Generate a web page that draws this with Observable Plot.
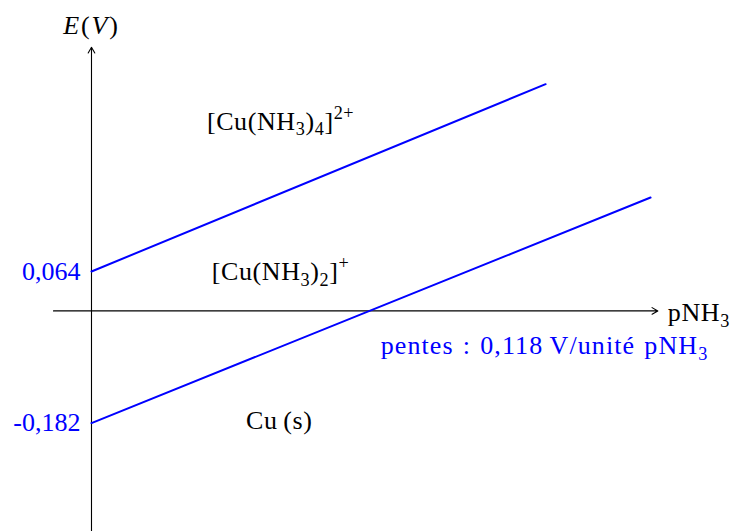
<!DOCTYPE html>
<html>
<head>
<meta charset="utf-8">
<script src="https://cdn.jsdelivr.net/npm/d3@7"></script>
<script src="https://cdn.jsdelivr.net/npm/@observablehq/plot@0.6"></script>
<style>
  html, body { margin: 0; padding: 0; background: #fff; }
  svg { display: block; }
</style>
</head>
<body>
<div id="chart"></div>
<script>
// ---- data ----
const series = ["Cu(II)/Cu(I)", "Cu(I)/Cu"];
const pNH3Start = [0, 0];
const pNH3End = [2.51, 3.09];
const EStart = [0.064, -0.182];
const EEnd = [0.368, 0.184];

const tickValues = [0.064, -0.182];
const tickLabels = ["0,064", "-0,182"];

const xExtent = [-0.21, 3.13];   // pNH3 axis extent
const yExtent = [-0.358, 0.428]; // E axis extent

const xLabel = "pNH_{3}";
const yLabel = "*E*(*V*)";
const regionLabels = ["[Cu(NH_{3})_{4}]^{2+}", "[Cu(NH_{3})_{2}]^{+}", "Cu\u2009(s)"];
const slopeLabel = "pentes : 0,118\u2009V/unité pNH_{3}";

// ---- tables built from the arrays ----
const lineRows = series.flatMap((s, i) => [
  {s, p: pNH3Start[i], E: EStart[i]},
  {s, p: pNH3End[i], E: EEnd[i]}
]);
const ticks = tickValues.map((v, i) => ({v, label: tickLabels[i]}));

const FS = 26;
const FONT = "'Liberation Serif', 'DejaVu Serif', serif";

const plot = Plot.plot({
  width: 732,
  height: 531,
  marginLeft: 53,
  marginRight: 74.7,
  marginTop: 46.7,
  marginBottom: 0,
  x: {domain: xExtent, axis: null},
  y: {domain: yExtent, axis: null},
  style: {fontFamily: FONT, background: "white", overflow: "visible"},
  marks: [
    // axes
    Plot.arrow([0], {x1: xExtent[0], x2: xExtent[1], y1: 0, y2: 0,
      stroke: "black", strokeWidth: 1.1, headLength: 9, headAngle: 60}),
    Plot.arrow([0], {x1: 0, x2: 0, y1: yExtent[0], y2: yExtent[1],
      stroke: "black", strokeWidth: 1.1, headLength: 9, headAngle: 60}),
    // frontier lines
    Plot.line(lineRows, {x: "p", y: "E", z: "s", stroke: "#0000ff", strokeWidth: 2}),
    // tick labels
    Plot.text(ticks, {x: 0, y: "v", text: "label", textAnchor: "end", dx: -11,
      lineAnchor: "middle", fill: "#0000ff", fontSize: FS}),
    // axis labels
    Plot.text([yLabel], {x: 0, y: yExtent[1], text: d => d, dy: -13.5, lineAnchor: "bottom",
      textAnchor: "middle", fill: "black", fontSize: FS, className: "richmath"}),
    Plot.text([xLabel], {x: xExtent[1], y: 0, text: d => d, dx: 10, dy: 10, lineAnchor: "bottom",
      textAnchor: "start", fill: "black", fontSize: FS, className: "rich"}),
    // region labels
    Plot.text([regionLabels[0]], {x: 1.045, y: 0.294, text: d => d, lineAnchor: "bottom",
      textAnchor: "middle", fill: "black", fontSize: FS, className: "rich"}),
    Plot.text([regionLabels[1]], {x: 1.045, y: 0.0505, text: d => d, lineAnchor: "bottom",
      textAnchor: "middle", fill: "black", fontSize: FS, className: "rich"}),
    Plot.text([regionLabels[2]], {x: 1.038, y: -0.191, text: d => d, lineAnchor: "bottom",
      textAnchor: "middle", fill: "black", fontSize: FS, className: "rich"}),
    Plot.text([slopeLabel], {x: 2.504, y: -0.0696, text: d => d, lineAnchor: "bottom",
      textAnchor: "middle", fill: "#0000ff", fontSize: FS, className: "richwide"})
  ]
});

// turn _{..} / ^{..} / *..* markup into tspans (sub/superscripts, italics)
function richify(textEl, fs) {
  const raw = textEl.textContent;
  const parts = raw.split(/(_\{[^}]*\}|\^\{[^}]*\}|\*[^*]*\*)/).filter(s => s.length);
  while (textEl.firstChild) textEl.removeChild(textEl.firstChild);
  let shift = 0;
  for (const p of parts) {
    const ts = document.createElementNS("http://www.w3.org/2000/svg", "tspan");
    let target = 0, content = p, size = null, italic = false;
    if (p.startsWith("_{")) { target = fs * 0.22; content = p.slice(2, -1); size = fs * 0.7; }
    else if (p.startsWith("^{")) { target = -fs * 0.4; content = p.slice(2, -1); size = fs * 0.7; }
    else if (p.startsWith("*")) { content = p.slice(1, -1); italic = true; }
    ts.setAttribute("dy", (target - shift).toFixed(2));
    shift = target;
    if (size) ts.setAttribute("font-size", size.toFixed(2));
    if (italic) ts.setAttribute("font-style", "italic");
    ts.textContent = content;
    textEl.appendChild(ts);
  }
}
const spacing = {rich: [0.6, 0], richwide: [1.1, 1.5], richmath: [1.8, 0]};
for (const [cls, [ls, ws]] of Object.entries(spacing)) {
  plot.querySelectorAll(`g.${cls} text`).forEach(t => {
    richify(t, FS);
    t.setAttribute("letter-spacing", ls);
    if (ws) t.setAttribute("word-spacing", ws);
  });
}

document.getElementById("chart").appendChild(plot);
</script>
</body>
</html>
